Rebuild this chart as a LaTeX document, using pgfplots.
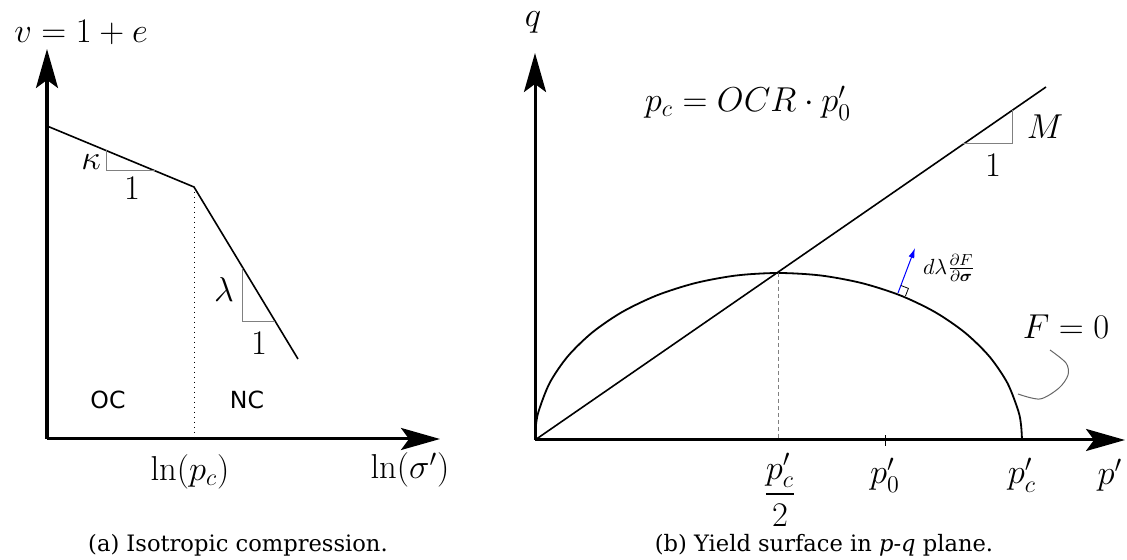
\documentclass[border=0pt]{standalone}
\usepackage[no-math]{fontspec}
\usepackage{amsmath,amssymb}
\usepackage{pgfplots}
\pgfplotsset{compat=1.18}
\usetikzlibrary{arrows.meta}
\newfontfamily\capfont{DejaVu Serif}
\newfontfamily\ocfont{DejaVu Sans}

\tikzset{mfont/.style={font=\fontsize{18.2}{22}\selectfont}}
\pgfplotsset{
  diagram/.style={
    scale only axis,
    axis lines=left,
    axis line style={line width=1.5pt,-{Stealth[length=19.5pt,width=11pt,inset=4pt]}},
    xtick=\empty, ytick=\empty,
    clip=false,
  },
}

\begin{document}
\begin{tikzpicture}
\useasboundingbox (0,0) rectangle (563.5pt,280pt);

% (a) isotropic compression
\begin{axis}[diagram,
  at={(23.5pt,60.5pt)}, anchor=south west,
  width=196.5pt, height=195pt,
  xmin=0, xmax=393, ymin=0, ymax=390,
]
\addplot[black,line width=0.8pt] coordinates {(0,313) (147,252) (251,80)};
\addplot[black,line width=0.5pt,dotted] coordinates {(147,252) (147,0)};
\addplot[gray,line width=0.5pt] coordinates {(59,289) (59,268) (108,268)};
\addplot[gray,line width=0.5pt] coordinates {(195,171) (195,117) (228,117)};
\node[mfont] at (axis cs:44,277) {$\kappa$};
\node[mfont] at (axis cs:85,251) {$1$};
\node[mfont] at (axis cs:177,149) {$\lambda$};
\node[mfont] at (axis cs:212,96) {$1$};
\node[font=\ocfont\fontsize{11.8}{14}\selectfont] at (axis cs:61,39) {OC};
\node[font=\ocfont\fontsize{11.8}{14}\selectfont] at (axis cs:200,39) {NC};
\node[mfont] at (axis cs:143,-33) {$\ln(p_c)$};
\node[mfont] at (axis cs:363,-31) {$\ln(\sigma')$};
\node[mfont] at (axis cs:34,407) {$v=1+e$};
\node[font=\capfont\fontsize{11.3}{14}\selectfont] at (axis cs:191,-106) {(a) Isotropic compression.};
\end{axis}

% (b) yield surface in p-q plane
\begin{axis}[diagram,
  at={(267.5pt,60pt)}, anchor=south west,
  width=295pt, height=193.5pt,
  xmin=0, xmax=590, ymin=0, ymax=387,
]
% critical state line
\addplot[black,line width=0.8pt] coordinates {(0,0) (511,353)};
% yield ellipse F=0
\addplot[black,line width=0.9pt,smooth] coordinates {
  (0,0) (0.93,14.6) (3.70,29.0) (14.68,57.1) (32.63,83.5) (56.98,107.3)
  (86.98,127.9) (121.75,144.6) (160.22,156.9) (201.22,164.5) (243.5,167)
  (285.78,164.5) (326.78,156.9) (365.25,144.6) (400.02,127.9) (430.02,107.3)
  (454.37,83.5) (472.32,57.1) (483.30,29.0) (486.07,14.6) (487,0)};
\addplot[gray,line width=0.5pt,dash pattern=on 2pt off 1.5pt] coordinates {(243.5,167) (243.5,0)};
\addplot[black,line width=0.5pt] coordinates {(350,-6) (350,5)};
% slope triangle M
\addplot[gray,line width=0.5pt] coordinates {(428.4,296) (477,296) (477,329.6)};
% normal vector
\addplot[blue,line width=0.5pt,-{Latex[length=5pt,width=3pt]}] coordinates {(363,147) (380,192)};
\addplot[black,line width=0.4pt] coordinates {(370.5,144.1) (373.4,151.6) (365.9,154.5)};
% callout to F=0
\addplot[gray!80!black,line width=0.5pt,smooth] coordinates {(515,90) (531,77) (533,65) (524,52) (505,41) (483,46)};
\node[mfont] at (axis cs:-2,418) {$q$};
\node[mfont] at (axis cs:213,337) {$p_c = OCR\cdot p'_0$};
\node[mfont] at (axis cs:510,313) {$M$};
\node[mfont] at (axis cs:458,275) {$1$};
\node[font=\fontsize{11}{13}\selectfont,inner sep=1pt] at (axis cs:414,172) {$d\lambda\frac{\partial F}{\partial\boldsymbol{\sigma}}$};
\node[mfont] at (axis cs:531,113) {$F=0$};
\node[mfont] at (axis cs:245,-50) {$\dfrac{p'_c}{2}$};
\node[mfont] at (axis cs:350,-35) {$p'_0$};
\node[mfont] at (axis cs:487,-35) {$p'_c$};
\node[mfont] at (axis cs:575,-35) {$p'$};
\node[font=\capfont\fontsize{11.3}{14}\selectfont] at (axis cs:289,-105) {(b) Yield surface in {\itshape p-q} plane.};
\end{axis}
\end{tikzpicture}
\end{document}
